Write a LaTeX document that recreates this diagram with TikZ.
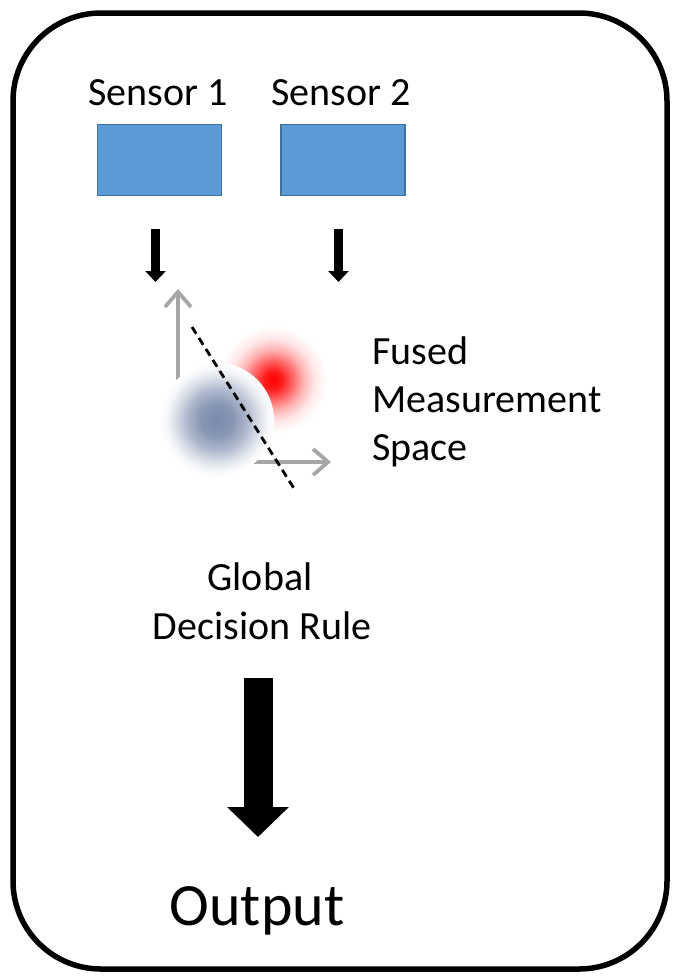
\documentclass[tikz,border=0pt]{standalone}
\usepackage{fontspec}
\setmainfont{Carlito}
\usetikzlibrary{arrows.meta}
\definecolor{sensorfill}{HTML}{5B9BD5}
\definecolor{sensordraw}{HTML}{41719C}
\definecolor{axisgray}{RGB}{166,166,166}
\definecolor{blobblue}{RGB}{122,139,172}
\pgfdeclareradialshading{redblob}{\pgfpointorigin}{color(0bp)=(red); color(4bp)=(red!90); color(9bp)=(red!60); color(14bp)=(red!30); color(19bp)=(red!10); color(23bp)=(red!3); color(25bp)=(white); color(50bp)=(white)}
\pgfdeclareradialshading{blueblob}{\pgfpointorigin}{color(0bp)=(blobblue); color(7bp)=(blobblue!90); color(13bp)=(blobblue!62); color(18bp)=(blobblue!30); color(22bp)=(blobblue!8); color(25bp)=(white); color(50bp)=(white)}
\tikzset{
  frame/.style={line width=5.5pt, rounded corners=88pt},
  sensorbox/.style={draw=sensordraw, fill=sensorfill, line width=1.5pt, minimum width=124pt, minimum height=71pt, inner sep=0pt},
  lbl/.style={font=\fontsize{40}{48}\selectfont, inner sep=0pt},
  bigl/.style={font=\fontsize{60}{72}\selectfont, inner sep=0pt},
  smallarrow/.style={line width=9.5pt, -{Triangle[width=20pt,length=11pt]}},
  bigarrow/.style={line width=29pt, -{Triangle[width=60pt,length=30pt]}},
  axisarrow/.style={draw=axisgray, line width=3.8pt, -{Straight Barb[length=15pt,width=26pt]}},
  boundary/.style={dash pattern=on 8pt off 5pt, line width=2.8pt}
}
\begin{document}
\begin{tikzpicture}[x=1pt,y=-1pt]
\useasboundingbox (0,0) rectangle (673,977);
\draw[frame] (13,13) rectangle (667,969);
% sensors
\node[sensorbox] (s1) at (159.5,160) {};
\node[sensorbox] (s2) at (343,160) {};
\node[lbl, anchor=base] (l1) at (158,105) {Sensor 1};
\node[lbl, anchor=base] (l2) at (341,105) {Sensor 2};
\coordinate (a1s) at (155.5,229);
\coordinate (a1e) at (155.5,282);
\coordinate (a2s) at (338.5,229);
\coordinate (a2e) at (338.5,282);
\draw[smallarrow] (a1s) -- (a1e);
\draw[smallarrow] (a2s) -- (a2e);
% measurement space
\coordinate (orig) at (178,395);
\coordinate (yax) at (178,289);
\coordinate (xo) at (240,462);
\coordinate (xax) at (331,462);
\draw[axisarrow] (orig) -- (yax);
\draw[axisarrow] (xo) -- (xax);
\shade[shading=redblob] (273,380) circle (54);
\shade[shading=blueblob] (217,420) circle (57);
\coordinate (d1) at (192,327);
\coordinate (d2) at (295,490);
\draw[boundary] (d1) -- (d2);
\node[lbl, anchor=base west] (f1) at (372,364) {Fused};
\node[lbl, anchor=base west] (f2) at (372,412) {Measurement};
\node[lbl, anchor=base west] (f3) at (372,460) {Space};
% decision
\node[lbl, anchor=base] (g1) at (260,590) {Global};
\node[lbl, anchor=base] (g2) at (262,639) {Decision Rule};
\coordinate (b1) at (258,678);
\coordinate (b2) at (258,837);
\draw[bigarrow] (b1) -- (b2);
\node[bigl, anchor=base] (out) at (257,925) {Output};
\end{tikzpicture}
\end{document}
